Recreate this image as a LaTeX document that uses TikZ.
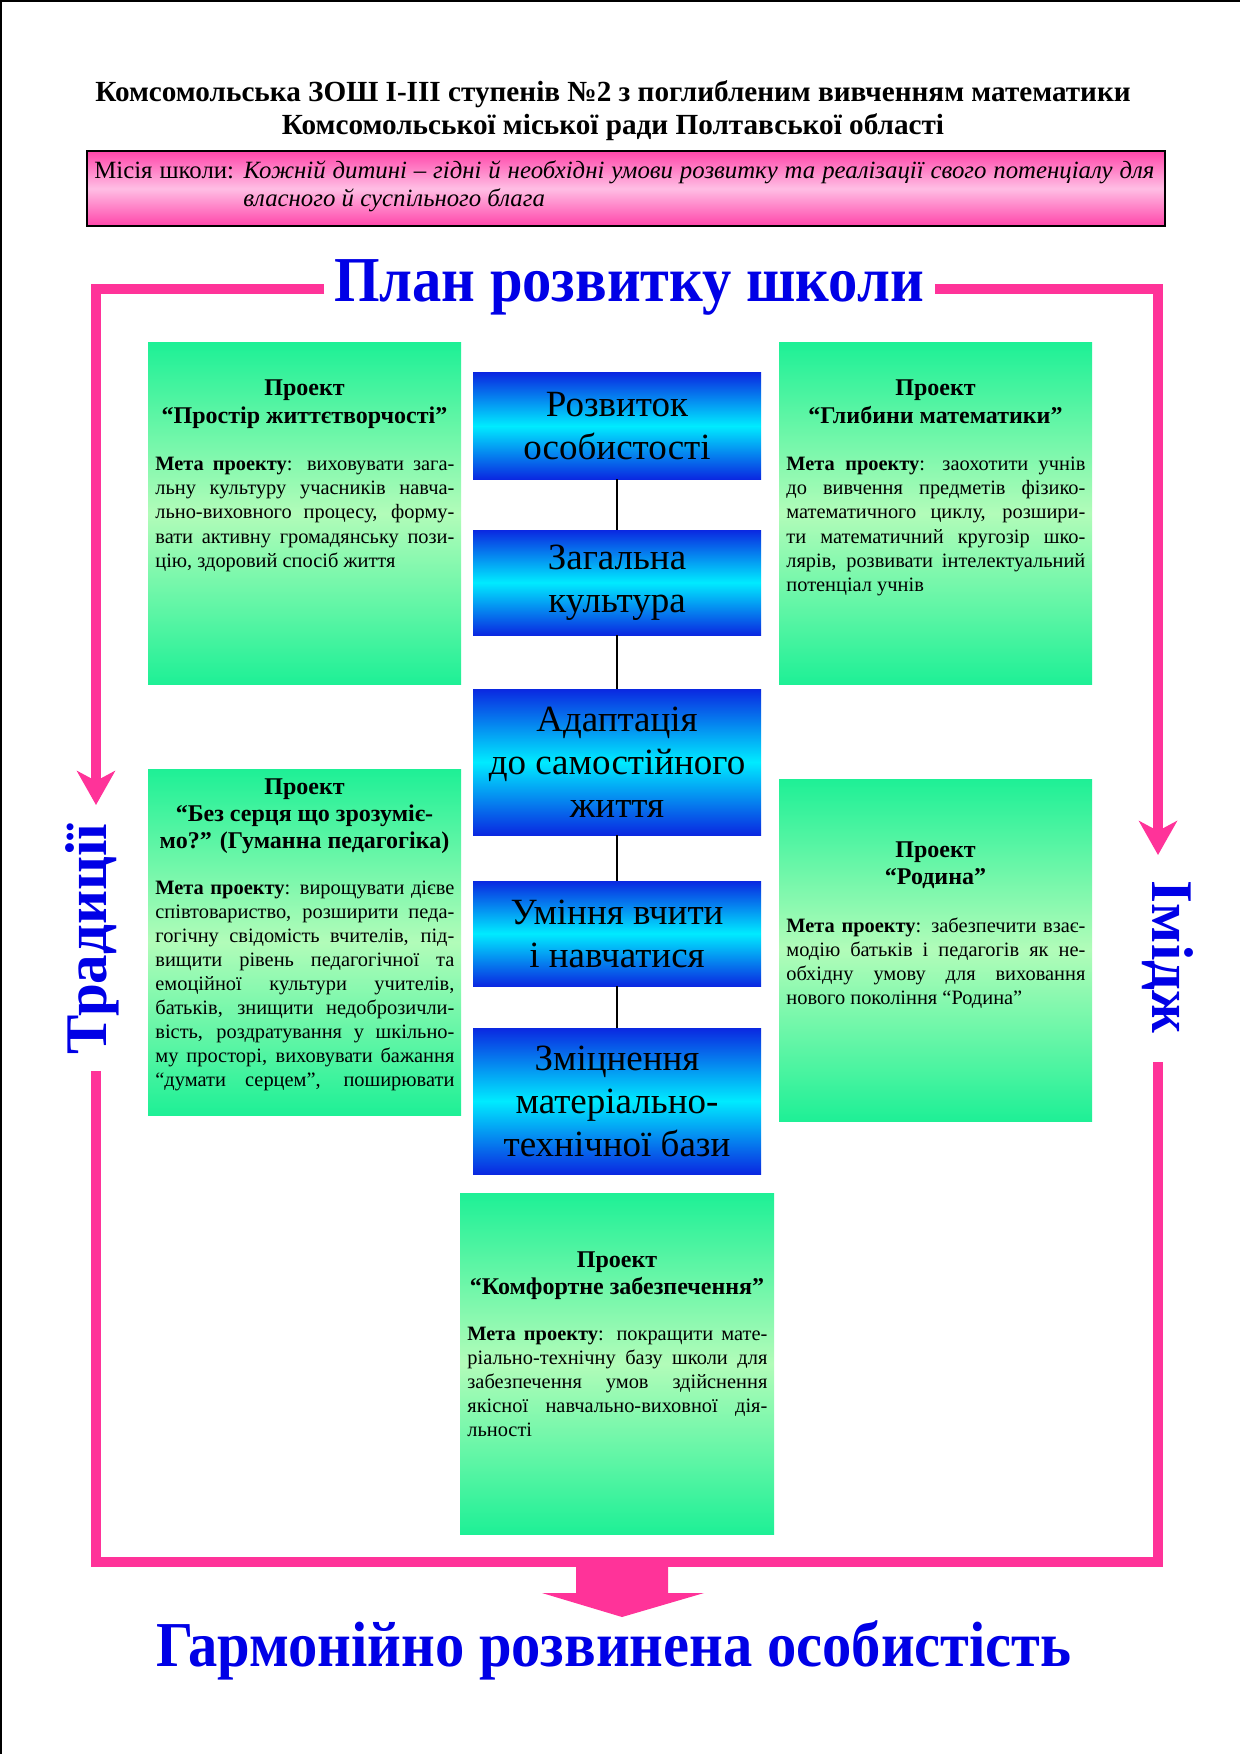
\documentclass[tikz,border=0pt]{standalone}
\usepackage{fontspec}
\setmainfont{Liberation Serif}
\newfontfamily\condfont[FakeStretch=0.915]{Liberation Serif}
\usetikzlibrary{arrows.meta,calc}
\setlength\parindent{0pt}
\definecolor{pk}{RGB}{255,51,153}
\definecolor{tb}{RGB}{0,0,230}
\definecolor{mint}{RGB}{30,240,150}
\definecolor{pale}{RGB}{178,252,185}
\definecolor{bdark}{RGB}{10,40,225}
\definecolor{bcyan}{RGB}{0,235,255}
\definecolor{mpink}{RGB}{255,70,170}
\definecolor{mlight}{RGB}{255,190,228}
\newcommand\jl[1]{\makebox[\linewidth][s]{#1}\par}
\begin{document}
\begin{tikzpicture}[x=0.5pt,y=-0.5pt,
  gbox/.style={inner sep=0pt, minimum width=156.5pt, top color=mint, bottom color=mint, middle color=pale},
  bbox/.style={inner sep=0pt, minimum width=144pt, top color=bdark, bottom color=bdark, middle color=bcyan, align=center, font=\fontsize{18.5}{21.5}\selectfont},
  ttl/.style={inner sep=0pt, anchor=base, font=\fontsize{12}{13.5}\selectfont\bfseries},
  body/.style={inner sep=0pt, anchor=base west},
  conn/.style={line width=0.7pt, black},
  frame/.style={draw=pk, line width=5pt, line join=miter},
  big/.style={text=tb, font=\condfont\fontsize{32}{38}\selectfont\bfseries, inner sep=0pt},
  side/.style={text=tb, font=\fontsize{29.5}{34}\selectfont\bfseries, inner sep=0pt},
  hdr/.style={inner sep=0pt, anchor=base, font=\fontsize{14.6}{17}\selectfont\bfseries},
]
\useasboundingbox (0,0) rectangle (1240,1754);
\fill[white] (0,0) rectangle (1240,1754);
% page edges
\draw[black, line width=1pt] (1,1754) -- (1,1) -- (1240,1);

% header
\node[hdr] (h1) at (613,102) {Комсомольська ЗОШ І-ІІІ ступенів №2 з поглибленим вивченням математики};
\node[hdr] (h2) at (613,135) {Комсомольської міської ради Полтавської області};

% mission
\node[draw=black, line width=1pt, minimum width=539pt, minimum height=37.5pt, inner sep=0pt,
  top color=mpink, bottom color=mpink, middle color=mlight] (mis) at (626,188.5) {};
\node[body, font=\fontsize{12.4}{14}\selectfont] (ms1) at (94,179) {\makebox[530pt][s]{Місія школи: \textit{Кожній дитині – гідні й необхідні умови розвитку та реалізації свого потенціалу для}}};
\node[body, font=\fontsize{12.4}{14}\selectfont\itshape] (ms2) at (243,207) {власного й суспільного блага};

% frame
\coordinate (tlA) at (324,289);
\coordinate (tl) at (96,289);
\coordinate (la) at (96,805);
\coordinate (lb) at (96,1071);
\coordinate (bl) at (96,1562);
\coordinate (br) at (1158,1562);
\coordinate (rb) at (1158,1062);
\coordinate (trA) at (935,289);
\coordinate (tr) at (1158,289);
\coordinate (ra) at (1158,855);
\draw[frame, -{Stealth[length=17pt,width=19pt,inset=5pt]}] (tlA) -- (tl) -- (la);
\draw[frame] (lb) -- (bl) -- (br) -- (rb);
\draw[frame, -{Stealth[length=17pt,width=19pt,inset=5pt]}] (trA) -- (tr) -- (ra);
\fill[pk] (576,1562) -- (668,1562) -- (668,1593) -- (704,1593) -- (622,1617) -- (542,1593) -- (576,1593) -- cycle;

\node[big, anchor=base] (plan) at (629,302) {План розвитку школи};
\node[big, anchor=base] (harm) at (614,1666) {Гармонійно розвинена особистість};
\node[side, rotate=90] (trad) at (92,939) {Традиції};
\node[side, rotate=-90] (imid) at (1168,957) {Імідж};

% green boxes
\node[gbox, minimum height=170.5pt] (p1) at (304.5,513.5) {};
\node[gbox, minimum height=170.5pt] (p2) at (935.5,513.5) {};
\node[gbox, minimum height=173pt] (p3) at (304.5,942) {};
\node[gbox, minimum height=171pt] (p4) at (935.5,950) {};
\node[gbox, minimum height=170.5pt, minimum width=157pt] (p5) at (617,1363.5) {};

% blue boxes
\node[bbox, minimum height=53pt] (b1) at (617,426) {Розвиток\\особистості};
\node[bbox, minimum height=52.5pt] (b2) at (617,582.5) {Загальна\\культура};
\node[bbox, minimum height=73pt] (b3) at (617,762) {Адаптація\\до самостійного\\життя};
\node[bbox, minimum height=52.5pt] (b4) at (617,933.5) {Уміння вчити\\і навчатися};
\node[bbox, minimum height=73pt] (b5) at (617,1101) {Зміцнення\\матеріально-\\технічної бази};
\draw[conn] (b1) -- (b2);
\draw[conn] (b2) -- (b3);
\draw[conn] (b3) -- (b4);
\draw[conn] (b4) -- (b5);

% texts in green boxes
\node[ttl] (t1) at (304.5,396) {\parbox[t]{156pt}{\centering Проект\\“Простір життєтворчості”}};
\node[body] (m1) at (155,471) {\parbox[t]{149.5pt}{\fontsize{10.2}{12}\selectfont
\jl{\textbf{Мета проекту}: виховувати зага-}
\jl{льну культуру учасників навча-}
\jl{льно-виховного процесу, форму-}
\jl{вати активну громадянську пози-}
цію, здоровий спосіб життя}};

\node[ttl] (t2) at (935.5,396) {\parbox[t]{156pt}{\centering Проект\\“Глибини математики”}};
\node[body] (m2) at (786,471) {\parbox[t]{149.5pt}{\fontsize{10.2}{12}\selectfont
\jl{\textbf{Мета проекту}: заохотити учнів}
\jl{до вивчення предметів фізико-}
\jl{математичного циклу, розшири-}
\jl{ти математичний кругозір шко-}
\jl{лярів, розвивати інтелектуальний}
потенціал учнів}};

\node[ttl] (t3) at (304.5,794) {\parbox[t]{156pt}{\centering Проект\\“Без серця що зрозумiє-\\мо?” (Гуманна педагогіка)}};
\node[body] (m3) at (155,894) {\parbox[t]{149.5pt}{\fontsize{10.2}{12}\selectfont
\jl{\textbf{Мета проекту}: вирощувати дієве}
\jl{співтовариство, розширити педа-}
\jl{гогічну свідомість вчителів, під-}
\jl{вищити рівень педагогічної та}
\jl{емоційної культури учителів,}
\jl{батьків, знищити недоброзичли-}
\jl{вість, роздратування у шкільно-}
\jl{му просторі, виховувати бажання}
\makebox[\linewidth][s]{“думати серцем”, поширювати}}};

\node[ttl] (t4) at (935.5,857) {\parbox[t]{156pt}{\centering Проект\\“Родина”}};
\node[body] (m4) at (786,932) {\parbox[t]{149.5pt}{\fontsize{10.2}{12}\selectfont
\jl{\textbf{Мета проекту}: забезпечити взає-}
\jl{модію батьків і педагогів як не-}
\jl{обхідну умову для виховання}
нового покоління “Родина”}};

\node[ttl] (t5) at (617,1267) {\parbox[t]{156pt}{\centering Проект\\“Комфортне забезпечення”}};
\node[body] (m5) at (467,1340) {\parbox[t]{150pt}{\fontsize{10.2}{12}\selectfont
\jl{\textbf{Мета проекту}: покращити мате-}
\jl{ріально-технічну базу школи для}
\jl{забезпечення умов здійснення}
\jl{якісної навчально-виховної дія-}
льності}};
\end{tikzpicture}
\end{document}
